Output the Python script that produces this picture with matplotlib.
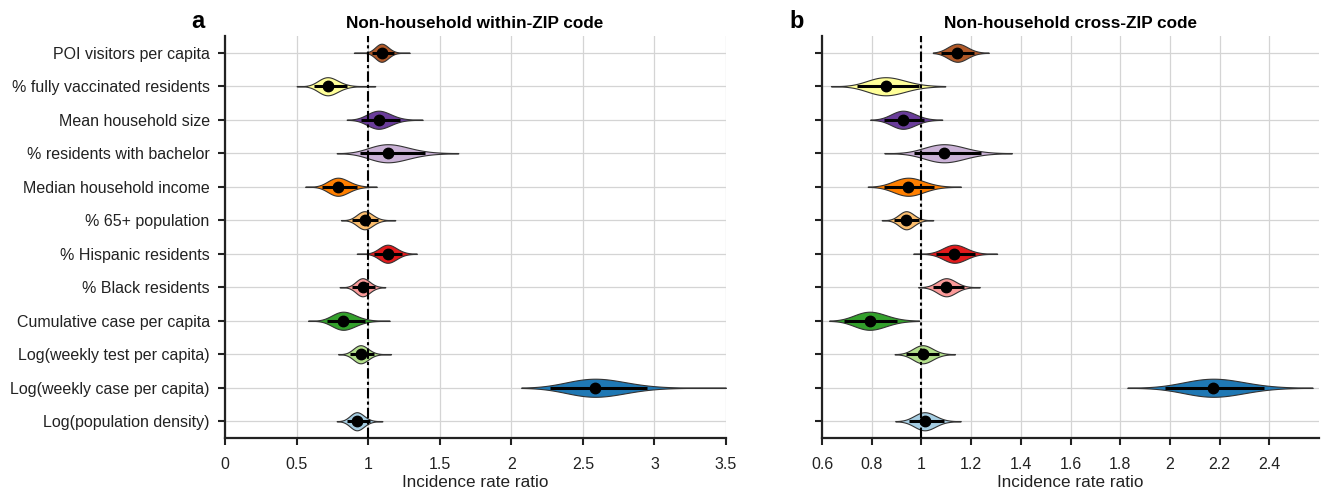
import numpy as np
import matplotlib
matplotlib.use("Agg")
import matplotlib.pyplot as plt
from matplotlib.ticker import FuncFormatter

plt.rcParams['font.family'] = ['Liberation Sans', 'DejaVu Sans']

labels = ["POI visitors per capita", "% fully vaccinated residents", "Mean household size",
          "% residents with bachelor", "Median household income", "% 65+ population",
          "% Hispanic residents", "% Black residents", "Cumulative case per capita",
          "Log(weekly test per capita)", "Log(weekly case per capita)", "Log(population density)"]

colors = ["#b15928", "#ffff99", "#6a3d9a", "#cab2d6", "#ff7f00", "#fdbf6f",
          "#e31a1c", "#fb9a99", "#33a02c", "#b2df8a", "#1f78b4", "#a6cee3"]

# Panel a: within-ZIP
a_med = [1.094, 0.717, 1.073, 1.138, 0.789, 0.975, 1.136, 0.961, 0.826, 0.947, 2.586, 0.921]
a_q1 = [1.03, 0.62, 0.95, 0.94, 0.68, 0.89, 1.04, 0.89, 0.71, 0.87, 2.27, 0.85]
a_q3 = [1.18, 0.85, 1.22, 1.40, 0.92, 1.07, 1.24, 1.05, 0.98, 1.04, 2.95, 1.01]
a_lo = [0.90, 0.50, 0.85, 0.78, 0.56, 0.81, 0.92, 0.80, 0.58, 0.79, 2.07, 0.78]
a_hi = [1.29, 1.05, 1.38, 1.63, 1.06, 1.19, 1.34, 1.12, 1.15, 1.16, 3.50, 1.10]

# Panel b: cross-ZIP
b_med = [1.145, 0.856, 0.926, 1.091, 0.947, 0.939, 1.133, 1.100, 0.792, 1.005, 2.175, 1.013]
b_q1 = [1.08, 0.74, 0.85, 0.97, 0.85, 0.89, 1.06, 1.045, 0.69, 0.94, 1.98, 0.95]
b_q3 = [1.21, 0.99, 1.01, 1.24, 1.05, 0.99, 1.215, 1.17, 0.90, 1.07, 2.38, 1.09]
b_lo = [1.046, 0.636, 0.794, 0.851, 0.784, 0.840, 0.967, 0.987, 0.629, 0.892, 1.829, 0.895]
b_hi = [1.271, 1.096, 1.084, 1.364, 1.159, 1.048, 1.305, 1.235, 0.991, 1.135, 2.574, 1.158]

fig = plt.figure(figsize=(13.27, 4.93), dpi=100)
axA = fig.add_axes([225/1327, 55/493, 501/1327, 402/493])
axB = fig.add_axes([822/1327, 55/493, 497/1327, 402/493])

fmt = FuncFormatter(lambda v, p: "%g" % round(v, 6))

def draw(ax, med, q1, q3, lo, hi):
    ypos = np.arange(len(labels))
    for i in range(len(labels)):
        y = ypos[i]
        ax.plot([lo[i], hi[i]], [y, y], color="#555555", lw=0.8, zorder=3, solid_capstyle='butt')
        s = (np.log(q3[i]) - np.log(q1[i])) / 3.3
        xs = np.linspace(lo[i], hi[i], 400)
        d = np.exp(-0.5 * ((np.log(xs) - np.log(med[i])) / s) ** 2)
        half = 0.27 * d
        ax.fill_between(xs, y - half, y + half, facecolor=colors[i], edgecolor="#333333",
                        linewidth=0.8, zorder=4)
        ax.plot([q1[i], q3[i]], [y, y], color="black", lw=2.2, zorder=5, solid_capstyle='butt')
        ax.plot([med[i]], [y], 'o', color="black", ms=7.5, zorder=6)
    ax.set_ylim(len(labels) - 0.5, -0.5)
    ax.set_yticks(ypos)
    ax.axvline(1, color="black", lw=1.5, ls=(0, (5, 1.5, 1.5, 1.5)), zorder=4.5)
    ax.grid(True, color="#d4d4d4", lw=0.9, zorder=0)
    ax.set_axisbelow(True)
    for sp in ["top", "right"]:
        ax.spines[sp].set_visible(False)
    for sp in ["left", "bottom"]:
        ax.spines[sp].set_linewidth(1.6)
        ax.spines[sp].set_color("#222222")
    ax.tick_params(axis='both', direction='out', length=5, width=1.5, color="#222222",
                   labelsize=11.5, labelcolor="#222222")
    ax.tick_params(axis='x', pad=9)
    ax.tick_params(axis='y', pad=6)
    ax.xaxis.set_major_formatter(fmt)
    ax.set_xlabel("Incidence rate ratio", fontsize=12.3, color="#222222", labelpad=2)

draw(axA, a_med, a_q1, a_q3, a_lo, a_hi)
axA.set_xlim(0, 3.5)
axA.set_xticks([0, 0.5, 1, 1.5, 2, 2.5, 3, 3.5])
axA.set_yticklabels(labels)

draw(axB, b_med, b_q1, b_q3, b_lo, b_hi)
axB.set_xlim(0.6, 2.6)
axB.set_xticks([0.6, 0.8, 1, 1.2, 1.4, 1.6, 1.8, 2, 2.2, 2.4])
axB.set_yticklabels([])

fig.text(475/1327, 1 - 24/493, "Non-household within-ZIP code", ha="center", va="center",
         fontsize=12.3, fontweight="bold")
fig.text(1070/1327, 1 - 24/493, "Non-household cross-ZIP code", ha="center", va="center",
         fontsize=12.3, fontweight="bold")
fig.text(198/1327, 1 - 21/493, "a", ha="center", va="center", fontsize=17, fontweight="bold")
fig.text(797/1327, 1 - 21/493, "b", ha="center", va="center", fontsize=17, fontweight="bold")

fig.savefig("out.png", dpi=100)
